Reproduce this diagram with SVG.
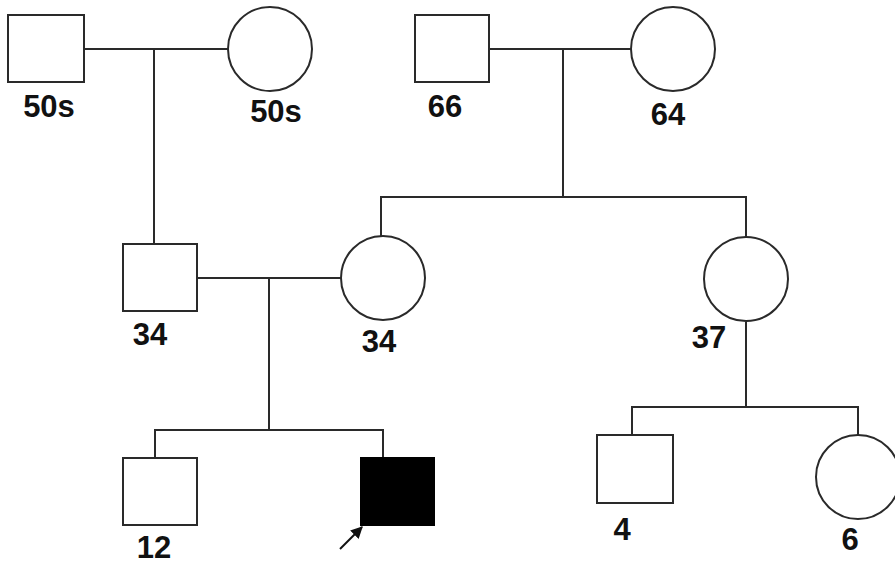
<svg xmlns="http://www.w3.org/2000/svg" width="895" height="564" viewBox="0 0 895 564">
  <style>
    .m { fill: #fff; stroke: #2a2a2a; stroke-width: 2; }
    .aff { fill: #000; stroke: #000; stroke-width: 2; }
    .line { fill: none; stroke: #2a2a2a; stroke-width: 2; }
    .lbl { font-family: "Liberation Sans", Arial, sans-serif; font-weight: bold; font-size: 31px; fill: #111; text-anchor: middle; }
  </style>
  <defs>
    <marker id="head" viewBox="0 0 10 10" refX="9" refY="5" markerUnits="userSpaceOnUse" markerWidth="13" markerHeight="12" orient="auto">
      <path d="M0,0 L10,5 L0,10 z" fill="#111"/>
    </marker>
  </defs>
  <rect width="895" height="564" fill="#fff"/>

  <g id="connectors">
    <!-- generation I, left couple -->
    <line class="line" x1="84" y1="49" x2="228" y2="49"/>
    <line class="line" x1="154" y1="49" x2="154" y2="244"/>
    <!-- generation I, right couple -->
    <line class="line" x1="489" y1="49" x2="631" y2="49"/>
    <line class="line" x1="563" y1="49" x2="563" y2="197"/>
    <polyline class="line" points="381,237 381,197 746,197 746,237"/>
    <!-- generation II couple -->
    <line class="line" x1="197" y1="278" x2="341" y2="278"/>
    <line class="line" x1="269" y1="278" x2="269" y2="430"/>
    <polyline class="line" points="155,458 155,430 383,430 383,458"/>
    <!-- aunt's children -->
    <line class="line" x1="746" y1="322" x2="746" y2="407"/>
    <polyline class="line" points="632,435 632,407 858,407 858,435"/>
    <!-- proband arrow -->
    <line x1="340" y1="549" x2="362" y2="527" stroke="#111" stroke-width="2" marker-end="url(#head)"/>
  </g>

  <g id="gf-paternal">
    <rect class="m" x="8" y="15" width="76" height="67"/>
    <text class="lbl" x="49" y="117">50s</text>
  </g>
  <g id="gm-paternal">
    <circle class="m" cx="270" cy="49" r="42"/>
    <text class="lbl" x="276" y="122">50s</text>
  </g>
  <g id="gf-maternal">
    <rect class="m" x="415" y="15" width="74" height="67"/>
    <text class="lbl" x="445" y="117">66</text>
  </g>
  <g id="gm-maternal">
    <circle class="m" cx="673" cy="49" r="42"/>
    <text class="lbl" x="668" y="125">64</text>
  </g>
  <g id="father">
    <rect class="m" x="123" y="244" width="74" height="67"/>
    <text class="lbl" x="150" y="345">34</text>
  </g>
  <g id="mother">
    <circle class="m" cx="383" cy="278" r="42"/>
    <text class="lbl" x="379" y="352">34</text>
  </g>
  <g id="aunt">
    <circle class="m" cx="746" cy="279" r="42"/>
    <text class="lbl" x="709" y="348">37</text>
  </g>
  <g id="brother">
    <rect class="m" x="123" y="458" width="74" height="67"/>
    <text class="lbl" x="154" y="558">12</text>
  </g>
  <g id="proband">
    <rect class="aff" x="361" y="458" width="73" height="67"/>
  </g>
  <g id="cousin-m">
    <rect class="m" x="597" y="435" width="76" height="68"/>
    <text class="lbl" x="622" y="540">4</text>
  </g>
  <g id="cousin-f">
    <circle class="m" cx="858" cy="477" r="42"/>
    <text class="lbl" x="850" y="550">6</text>
  </g>
</svg>
